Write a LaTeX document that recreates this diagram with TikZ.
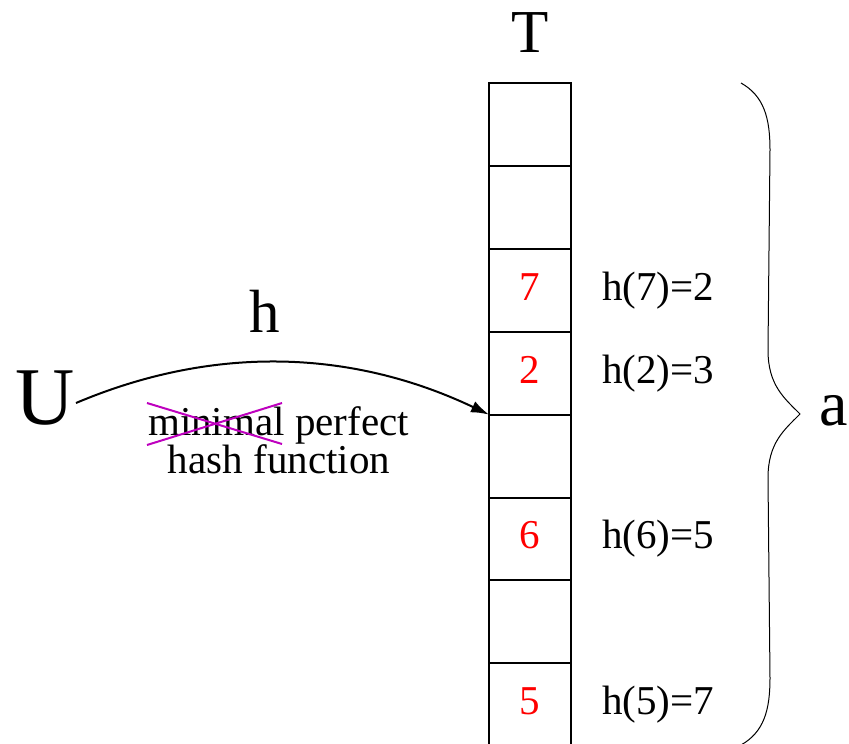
\documentclass[tikz,border=0pt]{standalone}
\usepackage{fontspec}
\setmainfont{Liberation Serif}
\usetikzlibrary{arrows.meta}
\definecolor{crossc}{RGB}{190,0,190}
\tikzset{
  cell/.style={draw, line width=2pt, minimum width=82pt, minimum height=82.9pt, inner sep=0pt, outer sep=0pt},
  val/.style={text=red, font=\fontsize{41}{41}\selectfont, anchor=base},
  hlab/.style={font=\fontsize{41}{41}\selectfont, anchor=base west, inner sep=0pt},
  big/.style={font=\fontsize{61}{61}\selectfont, anchor=base, inner sep=0pt},
  txt/.style={font=\fontsize{41}{41}\selectfont, anchor=base, inner sep=0pt},
  conn/.style={line width=2pt, -{Latex[length=18pt,width=12pt]}},
  brace/.style={line width=1pt},
  cross/.style={crossc, line width=2pt}
}
\begin{document}
\begin{tikzpicture}[x=1pt,y=-1pt]
\useasboundingbox (0,0) rectangle (849,744);
% table cells
\foreach \i in {1,...,8}{
  \node[cell] (c\i) at (530, {83+41.45+82.9*(\i-1)}) {};
}
\node[big] (T) at (530,52) {T};
% values
\node[val] (v7) at ([yshift=-10pt]c3.center) {7};
\node[val] (v2) at ([yshift=-10pt]c4.center) {2};
\node[val] (v6) at ([yshift=-10pt]c6.center) {6};
\node[val] (v5) at ([yshift=-10pt]c8.center) {5};
% labels
\node[hlab] (l7) at (602,{83+41.45+82.9*2+10}) {h(7)=2};
\node[hlab] (l2) at (602,{83+41.45+82.9*3+10}) {h(2)=3};
\node[hlab] (l6) at (602,{83+41.45+82.9*5+10}) {h(6)=5};
\node[hlab] (l5) at (602,{83+41.45+82.9*7+10}) {h(5)=7};
% U and arrow
\node[font=\fontsize{82}{82}\selectfont, anchor=base, inner sep=0pt] (U) at (45,424) {U};
\coordinate (s) at (76,403);
\draw[conn] (s) .. controls (213,345) and (351,349) .. (c5.north west);
\node[big] (h) at (265,332) {h};
\node[txt] (t1) at (278.5,435) {minimal perfect};
\node[txt] (t2) at (279,473) {hash function};
% cross-out
\coordinate (x1) at (147,403);
\coordinate (x2) at (282,444);
\coordinate (x3) at (147,445);
\coordinate (x4) at (282,403);
\draw[cross] (x1) -- (x2);
\draw[cross] (x3) -- (x4);
% brace
\coordinate (bt) at (741,83);
\coordinate (bm) at (800,414);
\coordinate (bb) at (741,745);
\draw[brace] (bt) .. controls (764,96) and (770,118) .. (770,150)
  -- (768,350) .. controls (768,385) and (784,398) .. (bm)
  .. controls (784,430) and (768,443) .. (768,478)
  -- (770,678) .. controls (770,710) and (764,732) .. (bb);
\node[font=\fontsize{64}{64}\selectfont, anchor=base, inner sep=0pt] (a) at (834,425) {a};
\end{tikzpicture}
\end{document}
